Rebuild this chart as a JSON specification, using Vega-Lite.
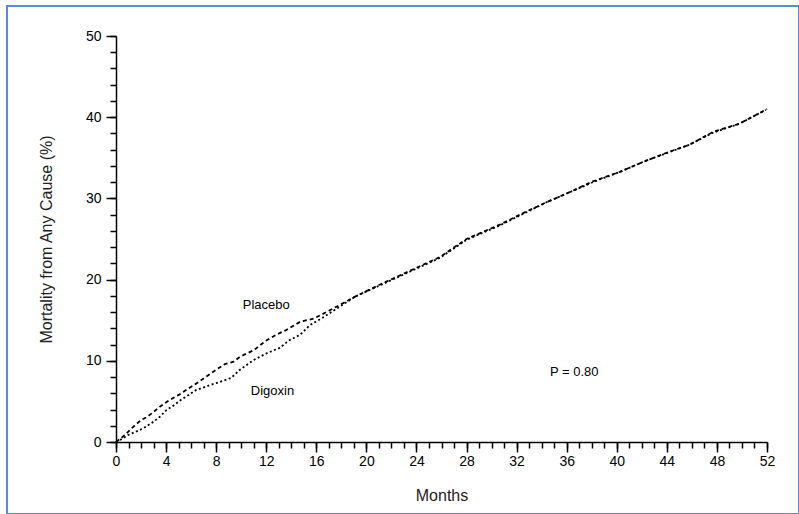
{
  "$schema": "https://vega.github.io/schema/vega-lite/v6.json",
  "width": 792,
  "height": 508,
  "autosize": {"type": "none"},
  "padding": {"left": 7, "top": 6, "right": 0, "bottom": 0},
  "background": "white",
  "config": {
    "view": {"stroke": "#5b8bd6", "strokeWidth": 2},
    "font": "Liberation Sans",
    "axis": {"domainColor": "black", "tickColor": "black", "domainWidth": 1.5, "tickWidth": 1.5, "labelColor": "black", "titleColor": "#222", "grid": false, "labelFont": "Liberation Sans", "titleFont": "Liberation Sans", "titleFontWeight": "normal", "labelFlush": false, "labelOverlap": false}
  },
  "datasets": {
    "curves": [
      {"group": "Placebo", "month": 0, "mortality": 0},
      {"group": "Placebo", "month": 0.5, "mortality": 0.6},
      {"group": "Placebo", "month": 1.0, "mortality": 1.3},
      {"group": "Placebo", "month": 1.4, "mortality": 1.9},
      {"group": "Placebo", "month": 2.0, "mortality": 2.7},
      {"group": "Placebo", "month": 2.5, "mortality": 3.1},
      {"group": "Placebo", "month": 3.0, "mortality": 3.7},
      {"group": "Placebo", "month": 3.5, "mortality": 4.35},
      {"group": "Placebo", "month": 4.3, "mortality": 5.2},
      {"group": "Placebo", "month": 5.0, "mortality": 5.8},
      {"group": "Placebo", "month": 5.6, "mortality": 6.4},
      {"group": "Placebo", "month": 6.6, "mortality": 7.4},
      {"group": "Placebo", "month": 7.4, "mortality": 8.25},
      {"group": "Placebo", "month": 8.0, "mortality": 8.9},
      {"group": "Placebo", "month": 8.7, "mortality": 9.6},
      {"group": "Placebo", "month": 9.4, "mortality": 9.9},
      {"group": "Placebo", "month": 9.9, "mortality": 10.5},
      {"group": "Placebo", "month": 11.0, "mortality": 11.3},
      {"group": "Placebo", "month": 12.0, "mortality": 12.5},
      {"group": "Placebo", "month": 12.8, "mortality": 13.2},
      {"group": "Placebo", "month": 13.6, "mortality": 13.8},
      {"group": "Placebo", "month": 14.7, "mortality": 14.8},
      {"group": "Placebo", "month": 15.8, "mortality": 15.2},
      {"group": "Placebo", "month": 16.8, "mortality": 16.0},
      {"group": "Placebo", "month": 17.9, "mortality": 16.9},
      {"group": "Placebo", "month": 19.1, "mortality": 17.9},
      {"group": "Placebo", "month": 21.1, "mortality": 19.4},
      {"group": "Placebo", "month": 23.5, "mortality": 21.1},
      {"group": "Placebo", "month": 25.9, "mortality": 22.8},
      {"group": "Placebo", "month": 28.0, "mortality": 25.0},
      {"group": "Placebo", "month": 30.7, "mortality": 26.8},
      {"group": "Placebo", "month": 32.8, "mortality": 28.4},
      {"group": "Placebo", "month": 34.5, "mortality": 29.6},
      {"group": "Placebo", "month": 36.0, "mortality": 30.6},
      {"group": "Placebo", "month": 38.1, "mortality": 32.1},
      {"group": "Placebo", "month": 40.3, "mortality": 33.3},
      {"group": "Placebo", "month": 42.1, "mortality": 34.5},
      {"group": "Placebo", "month": 44.2, "mortality": 35.75},
      {"group": "Placebo", "month": 45.8, "mortality": 36.6},
      {"group": "Placebo", "month": 47.7, "mortality": 38.2},
      {"group": "Placebo", "month": 49.8, "mortality": 39.2},
      {"group": "Placebo", "month": 52.0, "mortality": 41.0},
      {"group": "Digoxin", "month": 0, "mortality": 0},
      {"group": "Digoxin", "month": 0.5, "mortality": 0.4},
      {"group": "Digoxin", "month": 1.0, "mortality": 0.9},
      {"group": "Digoxin", "month": 1.5, "mortality": 1.2},
      {"group": "Digoxin", "month": 2.2, "mortality": 1.7},
      {"group": "Digoxin", "month": 3.0, "mortality": 2.5},
      {"group": "Digoxin", "month": 3.5, "mortality": 3.1},
      {"group": "Digoxin", "month": 4.0, "mortality": 3.9},
      {"group": "Digoxin", "month": 4.6, "mortality": 4.5},
      {"group": "Digoxin", "month": 5.2, "mortality": 5.2},
      {"group": "Digoxin", "month": 5.8, "mortality": 5.8},
      {"group": "Digoxin", "month": 6.4, "mortality": 6.4},
      {"group": "Digoxin", "month": 7.5, "mortality": 7.0},
      {"group": "Digoxin", "month": 8.3, "mortality": 7.4},
      {"group": "Digoxin", "month": 9.2, "mortality": 7.9},
      {"group": "Digoxin", "month": 9.9, "mortality": 8.9},
      {"group": "Digoxin", "month": 11.0, "mortality": 10.1},
      {"group": "Digoxin", "month": 12.0, "mortality": 10.9},
      {"group": "Digoxin", "month": 13.1, "mortality": 11.6},
      {"group": "Digoxin", "month": 13.8, "mortality": 12.5},
      {"group": "Digoxin", "month": 14.7, "mortality": 13.2},
      {"group": "Digoxin", "month": 15.5, "mortality": 14.4},
      {"group": "Digoxin", "month": 16.6, "mortality": 15.4},
      {"group": "Digoxin", "month": 17.9, "mortality": 16.7},
      {"group": "Digoxin", "month": 19.1, "mortality": 17.9},
      {"group": "Digoxin", "month": 21.1, "mortality": 19.3},
      {"group": "Digoxin", "month": 23.5, "mortality": 21.0},
      {"group": "Digoxin", "month": 25.9, "mortality": 22.7},
      {"group": "Digoxin", "month": 28.0, "mortality": 24.9},
      {"group": "Digoxin", "month": 30.7, "mortality": 26.7},
      {"group": "Digoxin", "month": 32.8, "mortality": 28.3},
      {"group": "Digoxin", "month": 34.5, "mortality": 29.6},
      {"group": "Digoxin", "month": 36.0, "mortality": 30.6},
      {"group": "Digoxin", "month": 38.1, "mortality": 32.0},
      {"group": "Digoxin", "month": 40.3, "mortality": 33.3},
      {"group": "Digoxin", "month": 42.1, "mortality": 34.5},
      {"group": "Digoxin", "month": 44.2, "mortality": 35.7},
      {"group": "Digoxin", "month": 45.8, "mortality": 36.6},
      {"group": "Digoxin", "month": 47.7, "mortality": 38.1},
      {"group": "Digoxin", "month": 49.8, "mortality": 39.2},
      {"group": "Digoxin", "month": 51.9, "mortality": 40.9}
    ],
    "notes": [
      {"label": "Placebo", "month": 12.0, "mortality": 16.9},
      {"label": "Digoxin", "month": 12.5, "mortality": 6.3},
      {"label": "P = 0.80", "month": 36.6, "mortality": 8.6}
    ]
  },
  "resolve": {"axis": {"x": "independent", "y": "independent"}},
  "layer": [
    {
      "data": {"name": "curves"},
      "mark": {"type": "line", "strokeWidth": 1.8, "color": "black", "interpolate": "linear"},
      "encoding": {
        "x": {"field": "month", "type": "quantitative",
              "scale": {"domain": [0, 52], "range": [109, 760], "nice": false, "zero": false},
              "axis": {"orient": "bottom", "offset": -72, "values": [0, 4, 8, 12, 16, 20, 24, 28, 32, 36, 40, 44, 48, 52], "tickSize": 10, "labelFontSize": 14, "labelPadding": 2, "title": "Months", "titleFontSize": 16, "titlePadding": 19}},
        "y": {"field": "mortality", "type": "quantitative",
              "scale": {"domain": [0, 50], "range": [436, 30], "nice": false, "zero": false},
              "axis": {"orient": "left", "offset": -109, "values": [0, 10, 20, 30, 40, 50], "tickSize": 10, "labelFontSize": 14, "labelPadding": 5, "title": "Mortality from Any Cause (%)", "titleFontSize": 16, "titlePadding": 31}},
        "detail": {"field": "group"},
        "strokeDash": {"field": "group", "type": "nominal", "scale": {"domain": ["Placebo", "Digoxin"], "range": [[4, 3], [2, 2.5]]}, "legend": null}
      }
    },
    {
      "data": {"name": "notes"},
      "mark": {"type": "text", "fontSize": 13, "color": "black", "align": "center", "baseline": "middle"},
      "encoding": {
        "x": {"field": "month", "type": "quantitative",
              "scale": {"domain": [0, 52], "range": [109, 760], "nice": false, "zero": false},
              "axis": {"orient": "bottom", "offset": -72, "values": [0,1,2,3,4,5,6,7,8,9,10,11,12,13,14,15,16,17,18,19,20,21,22,23,24,25,26,27,28,29,30,31,32,33,34,35,36,37,38,39,40,41,42,43,44,45,46,47,48,49,50,51,52], "tickSize": 6, "labels": false, "domain": false, "title": null}},
        "y": {"field": "mortality", "type": "quantitative",
              "scale": {"domain": [0, 50], "range": [436, 30], "nice": false, "zero": false},
              "axis": {"orient": "left", "offset": -109, "values": [0,2,4,6,8,10,12,14,16,18,20,22,24,26,28,30,32,34,36,38,40,42,44,46,48,50], "tickSize": 6, "labels": false, "domain": false, "title": null}},
        "text": {"field": "label"}
      }
    }
  ]
}
